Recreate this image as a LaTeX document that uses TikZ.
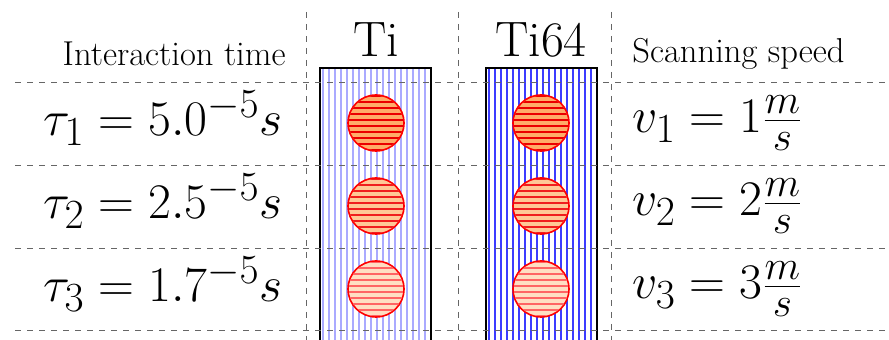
\RequirePackage{fix-cm}
\documentclass[tikz,border=0pt]{standalone}
\definecolor{tihatch}{RGB}{170,170,255}
\definecolor{tisixhatch}{RGB}{60,60,255}
\definecolor{spotfillA}{RGB}{255,172,105}
\definecolor{spotfillB}{RGB}{255,200,150}
\definecolor{spotfillC}{RGB}{255,222,195}
\definecolor{spotlineA}{RGB}{235,0,0}
\definecolor{spotlineB}{RGB}{240,30,30}
\definecolor{spotlineC}{RGB}{255,100,100}
\begin{document}
\begin{tikzpicture}[x=0.5pt, y=-0.5pt,
  gridline/.style={dashed, black!60, line width=0.45pt},
  boxedge/.style={black, line width=1.2pt},
  hatch/.style={line width=0.7pt},
  headtext/.style={inner sep=0pt, font=\LARGE},
  alloytext/.style={inner sep=0pt, font=\Huge},
  mathtext/.style={inner sep=0pt, font=\Huge},
  spot/.style={circle, draw=red, line width=0.8pt, minimum size=28pt, inner sep=0pt, fill=#1},
]
\useasboundingbox (0,0) rectangle (889,340);

% material columns (open at the bottom), hatched with vertical lines
\fill[white] (320,68) rectangle (431,345);
\foreach \x in {323,329,...,430} {\draw[hatch, color=tihatch] (\x,68) -- (\x,345);}
\draw[boxedge] (320,345) -- (320,68) -- (431,68) -- (431,345);
\fill[white] (486,68) rectangle (597,345);
\foreach \x in {489,495,...,596} {\draw[hatch, color=tisixhatch] (\x,68) -- (\x,345);}
\draw[boxedge] (486,345) -- (486,68) -- (597,68) -- (597,345);

% dashed grid
\coordinate (h0l) at (15,82);  \coordinate (h0r) at (889,82);
\coordinate (h1l) at (15,165); \coordinate (h1r) at (889,165);
\coordinate (h2l) at (15,248); \coordinate (h2r) at (889,248);
\coordinate (h3l) at (15,330); \coordinate (h3r) at (889,330);
\coordinate (v0t) at (306,12); \coordinate (v0b) at (306,340);
\coordinate (v1t) at (458,12); \coordinate (v1b) at (458,340);
\coordinate (v2t) at (611,12); \coordinate (v2b) at (611,340);
\foreach \n in {0,...,3} {\draw[gridline] (h\n l) -- (h\n r);}
\foreach \n in {0,...,2} {\draw[gridline] (v\n t) -- (v\n b);}

% headings
\node[headtext, anchor=base east] (timehead) at (286,66) {Interaction time};
\node[headtext, anchor=base west] (speedhead) at (632,63) {Scanning speed};
\node[alloytext, anchor=base] (ti) at (376,57) {Ti};
\node[alloytext, anchor=base] (ti64) at (541,57) {Ti64};

% melt spots: filled discs with red horizontal hatching
\foreach \name/\cx/\cy/\fillc/\linec in {
    s11/376/123/spotfillA/spotlineA, s21/541/123/spotfillA/spotlineA,
    s12/376/206/spotfillB/spotlineB, s22/541/206/spotfillB/spotlineB,
    s13/376/289/spotfillC/spotlineC, s23/541/289/spotfillC/spotlineC} {
  \node[spot=\fillc] (\name) at (\cx,\cy) {};
  \begin{scope}[shift={(\name.center)}]
    \clip (0,0) circle (13.6pt);
    \foreach \dy in {-27,-21,...,27} {\draw[hatch, color=\linec] (-30,\dy) -- (30,\dy);}
  \end{scope}
}

% interaction times
\node[mathtext, anchor=base east] (tau1) at (283,136) {$\tau_1 = 5.0^{-5}s$};
\node[mathtext, anchor=base east] (tau2) at (283,219) {$\tau_2 = 2.5^{-5}s$};
\node[mathtext, anchor=base east] (tau3) at (283,302) {$\tau_3 = 1.7^{-5}s$};

% scanning speeds
\node[mathtext, anchor=base west] (v1) at (632,133) {$v_1 = 1\frac{m}{s}$};
\node[mathtext, anchor=base west] (v2) at (632,216) {$v_2 = 2\frac{m}{s}$};
\node[mathtext, anchor=base west] (v3) at (632,299) {$v_3 = 3\frac{m}{s}$};
\end{tikzpicture}
\end{document}
